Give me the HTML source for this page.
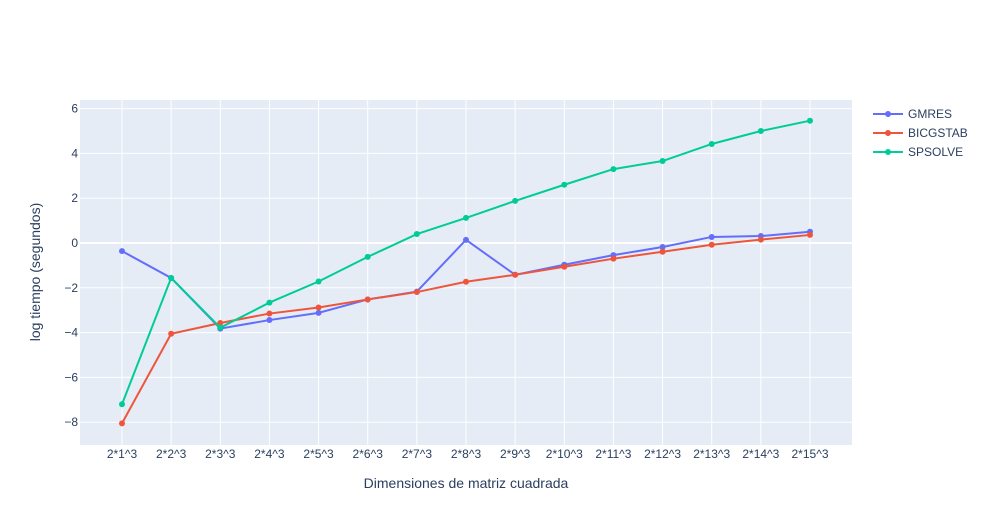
<!DOCTYPE html>
<html><head><meta charset="utf-8"><style>
body{margin:0;background:#fff;font-family:"Liberation Sans",Arial,sans-serif;}
svg text{font-family:"Liberation Sans",Arial,sans-serif;fill:#2a3f5f;}
</style></head><body>
<svg id="chart" width="982" height="525">
<rect x="80" y="100" width="772" height="345" fill="#e5ecf6"/>
<g id="grid"></g><g id="series"></g><g id="axes"></g>
<text x="466" y="488" text-anchor="middle" font-size="14">Dimensiones de matriz cuadrada</text>
<text transform="translate(40,272) rotate(-90)" text-anchor="middle" font-size="14">log tiempo (segundos)</text>
<g id="legend"></g>
</svg>
<script>
const categories=["2*1^3","2*2^3","2*3^3","2*4^3","2*5^3","2*6^3","2*7^3","2*8^3","2*9^3","2*10^3","2*11^3","2*12^3","2*13^3","2*14^3","2*15^3"];
const gmres=[-0.36,-1.56,-3.82,-3.44,-3.12,-2.52,-2.17,0.14,-1.42,-0.97,-0.54,-0.18,0.27,0.31,0.5];
const bicgstab=[-8.05,-4.05,-3.57,-3.15,-2.88,-2.52,-2.19,-1.73,-1.42,-1.06,-0.7,-0.39,-0.08,0.15,0.36];
const spsolve=[-7.2,-1.56,-3.78,-2.66,-1.72,-0.62,0.4,1.12,1.88,2.6,3.3,3.66,4.42,5.0,5.46];
const yTicks=[6,4,2,0,-2,-4,-6,-8];
const yTickLabels=["6","4","2","0","−2","−4","−6","−8"];
const seriesNames=["GMRES","BICGSTAB","SPSOLVE"];
const colors=["#636efa","#ef553b","#00cc96"];
const NS="http://www.w3.org/2000/svg";
const xPos=i=>122+i*(810-122)/(categories.length-1);
const yPos=v=>243-22.4*v;
function mk(tag,attrs,parent){const e=document.createElementNS(NS,tag);for(const k in attrs)e.setAttribute(k,attrs[k]);parent.appendChild(e);return e;}
const grid=document.getElementById('grid'),axes=document.getElementById('axes'),ser=document.getElementById('series'),leg=document.getElementById('legend');
categories.forEach((c,i)=>{
 const l=mk('line',{x1:xPos(i),x2:xPos(i),y1:100,y2:445,stroke:'#fff','stroke-width':1},grid);
 
 
 const t=mk('text',{x:xPos(i),y:458,'text-anchor':'middle','font-size':12},axes);
 t.textContent=c;
 
 
});
yTicks.forEach((v,i)=>{
 const l=mk('line',{x1:80,x2:852,y1:yPos(v),y2:yPos(v),stroke:'#fff','stroke-width':v===0?2:1},grid);
 
 
 const t=mk('text',{x:79-0,y:yPos(v)+4,'text-anchor':'end','font-size':12,dx:-1},axes);
 t.textContent=yTickLabels[i];
 
 
});
[gmres,bicgstab,spsolve].forEach((d,s)=>{
 const g=mk('g',{},ser);
 
 
 const p=mk('polyline',{points:d.map((v,i)=>xPos(i)+','+yPos(v)).join(' '),fill:'none',stroke:colors[s],'stroke-width':2},g);
 
 
 d.forEach((v,i)=>{
  const c=mk('circle',{cx:xPos(i),cy:yPos(v),r:3,fill:colors[s]},g);
  
  
 });
 const ly=114+s*19;
 const lg=mk('g',{},leg);
 
 
 mk('line',{x1:873,x2:903,y1:ly,y2:ly,stroke:colors[s],'stroke-width':2},lg);
 mk('circle',{cx:888,cy:ly,r:3,fill:colors[s]},lg);
 const t=mk('text',{x:908,y:ly+4,'font-size':12},lg);
 t.textContent=seriesNames[s];
});
</script>
</body></html>
